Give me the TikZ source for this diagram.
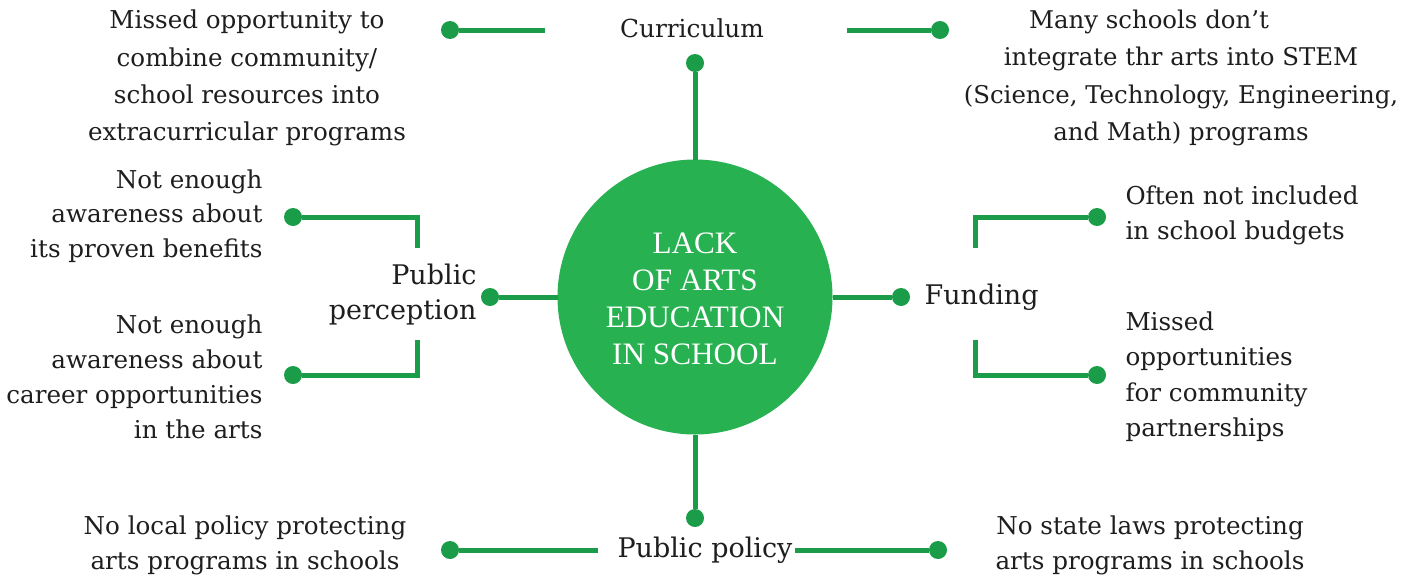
\documentclass[tikz,border=0pt]{standalone}
\usepackage{fontspec}
\setmainfont{DejaVu Serif}
\newfontfamily\corefont{Liberation Serif}
\usetikzlibrary{positioning}
\definecolor{leaf}{RGB}{39, 177, 81}
\definecolor{stem}{RGB}{26, 156, 72}
\definecolor{ink}{RGB}{30, 30, 30}

\begin{document}
\begin{tikzpicture}[x=0.5pt, y=-0.5pt, line width=2.5pt,
  dot/.style={circle, fill=stem, inner sep=0pt, outer sep=0pt, minimum size=9pt},
  body/.style={inner sep=0pt, text=ink, font=\fontsize{12.3}{17.5}\selectfont},
  head/.style={inner sep=0pt, text=ink, font=\fontsize{13.5}{17.5}\selectfont}]

  \useasboundingbox[fill=white] (0, 0) rectangle (1401, 578);

  % centre
  \node[circle, fill=leaf, minimum size=137.5pt, inner sep=0pt, outer sep=0pt,
    text=white, align=center, font=\corefont\fontsize{15.6}{18.6}\selectfont]
    (core) at (695, 297) {};
  \node[text=white, align=center, inner sep=0pt,
    font=\corefont\fontsize{15.6}{18.6}\selectfont] (coretxt) at (695, 299)
    {LACK\\OF ARTS\\EDUCATION\\IN SCHOOL};

  % curriculum
  \node[dot] (curdot) at (695, 63) {};
  \node[body, font=\fontsize{12.4}{17.5}\selectfont] (cur) at (692, 28) {Curriculum};
  \node[dot] (mocdot) at (450, 30) {};
  \node[dot] (msdot) at (940, 30) {};
  \coordinate (curl) at (545, 30);
  \coordinate (curr) at (847, 30);
  \node[body, align=center, font=\fontsize{12.3}{18.6}\selectfont] (moc) at (247, 78)
    {Missed opportunity to\\combine community/\\school resources into\\extracurricular programs};
  \node[body, align=center, font=\fontsize{12.2}{18.6}\selectfont] (ms) at (1181, 78)
    {Many schools don’t\hspace*{32pt}\\integrate thr arts into STEM\\(Science, Technology, Engineering,\\and Math) programs};
  \draw[stem] (core) -- (curdot);
  \draw[stem] (mocdot) -- (curl);
  \draw[stem] (curr) -- (msdot);

  % public perception
  \node[dot] (ppdot) at (490, 297) {};
  \node[head, align=right, anchor=east] (pp) at (479, 294.5) {Public\\perception};
  \coordinate (ppa) at (417, 248);
  \coordinate (ppb) at (417, 340);
  \node[dot] (nbdot) at (293, 217) {};
  \node[dot] (ncdot) at (293, 375) {};
  \node[body, align=right, anchor=east, font=\fontsize{12.3}{17.25}\selectfont] (nb) at (265, 216)
    {Not enough\\awareness about\\its proven benefits};
  \node[body, align=right, anchor=east, font=\fontsize{12.3}{17.6}\selectfont] (nc) at (265, 377)
    {Not enough\\awareness about\\career opportunities\\in the arts};
  \draw[stem] (core) -- (ppdot);
  \draw[stem] (ppa) |- (nbdot);
  \draw[stem] (ppb) |- (ncdot);

  % funding
  \node[dot] (fdot) at (901, 297) {};
  \node[head, anchor=west] (fund) at (922, 297) {Funding};
  \coordinate (fa) at (975, 248);
  \coordinate (fb) at (975, 340);
  \node[dot] (oftdot) at (1097, 217) {};
  \node[dot] (mopdot) at (1097, 375) {};
  \node[body, align=left, anchor=west] (oft) at (1123, 215.5)
    {Often not included\\in school budgets};
  \node[body, align=left, anchor=west, font=\fontsize{12.3}{17.75}\selectfont] (mop) at (1123, 376.5)
    {Missed\\opportunities\\for community\\partnerships};
  \draw[stem] (core) -- (fdot);
  \draw[stem] (fa) |- (oftdot);
  \draw[stem] (fb) |- (mopdot);

  % public policy
  \node[dot] (poldot) at (695, 518) {};
  \node[head] (pol) at (705, 550) {Public policy};
  \node[dot] (lpdot) at (450, 550) {};
  \node[dot] (sldot) at (938, 550) {};
  \coordinate (poll) at (598, 550);
  \node[body, align=center] (lp) at (245, 545.5)
    {No local policy protecting\\arts programs in schools};
  \node[body, align=center] (sl) at (1150, 545.5)
    {No state laws protecting\\arts programs in schools};
  \draw[stem] (core) -- (poldot);
  \draw[stem] (lpdot) -- (poll);
  \draw[stem] (pol.east |- sldot) -- (sldot);

\end{tikzpicture}
\end{document}
